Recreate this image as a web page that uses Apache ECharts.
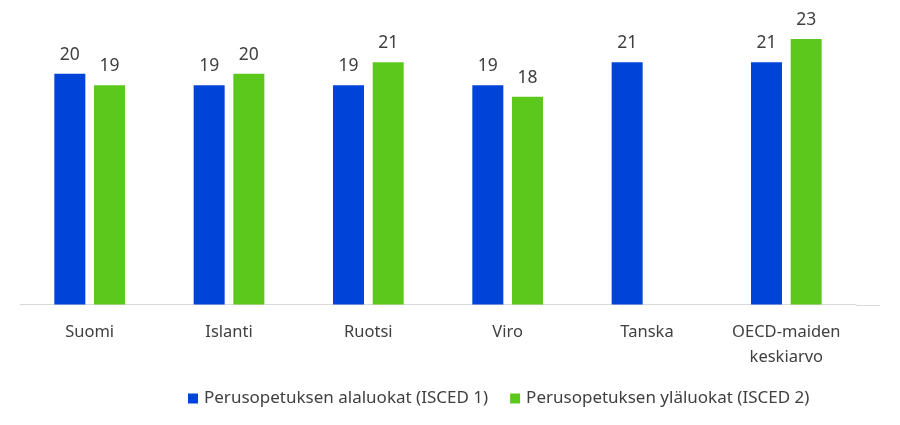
<!DOCTYPE html>
<html><head><meta charset="utf-8">
<script src="https://cdn.jsdelivr.net/npm/echarts@6/dist/echarts.min.js"></script>
<style>html,body{margin:0;padding:0;background:#fff}#c{width:900px;height:425px}</style>
</head><body><div id="c"></div>
<script>
const categories = ['Suomi', 'Islanti', 'Ruotsi', 'Viro', 'Tanska', 'OECD-maiden\nkeskiarvo'];
const seriesNames = ['Perusopetuksen alaluokat (ISCED 1)', 'Perusopetuksen yläluokat (ISCED 2)'];
const isced1 = [20, 19, 19, 19, 21, 21];
const isced2 = [19, 20, 21, 18, null, 23];

const font = 'Noto Sans';
const chart = echarts.init(document.getElementById('c'), null, {renderer: 'canvas'});
chart.setOption({
  animation: false,
  textStyle: {fontFamily: font},
  grid: {left: 20, right: 44, top: 16, bottom: 120.5, containLabel: false},
  legend: {
    bottom: 13, left: 183, itemWidth: 10, itemHeight: 10, itemGap: 22,
    icon: 'rect',
    textStyle: {fontFamily: font, fontSize: 17, color: '#404040', padding: [0, 0, 0, 1]},
    data: seriesNames
  },
  xAxis: {
    type: 'category', data: categories,
    axisLine: {lineStyle: {color: '#d9d9d9', width: 1}},
    axisTick: {show: false},
    axisLabel: {interval: 0, fontFamily: font, fontSize: 16.5, color: '#404040', margin: 15, lineHeight: 25}
  },
  yAxis: {type: 'value', min: 0, max: 25, show: false, splitLine: {show: false}},
  series: [
    {name: seriesNames[0], type: 'bar', data: isced1, barWidth: 31, barGap: '28%',
     itemStyle: {color: '#0043d8'},
     label: {show: true, position: 'top', distance: 10, fontFamily: font, fontSize: 17.5, color: '#404040'}},
    {name: seriesNames[1], type: 'bar', data: isced2, barWidth: 31,
     itemStyle: {color: '#5cc81c'},
     label: {show: true, position: 'top', distance: 10, fontFamily: font, fontSize: 17.5, color: '#404040'}}
  ]
});
const base = chart.convertToPixel({yAxisIndex: 0}, 0);
chart.setOption({graphic: [{type: 'line', silent: true,
  shape: {x1: 856, y1: Math.round(base) + 0.5, x2: 880, y2: Math.round(base) + 0.5},
  style: {stroke: '#d9d9d9', lineWidth: 1}}]});
</script></body></html>
